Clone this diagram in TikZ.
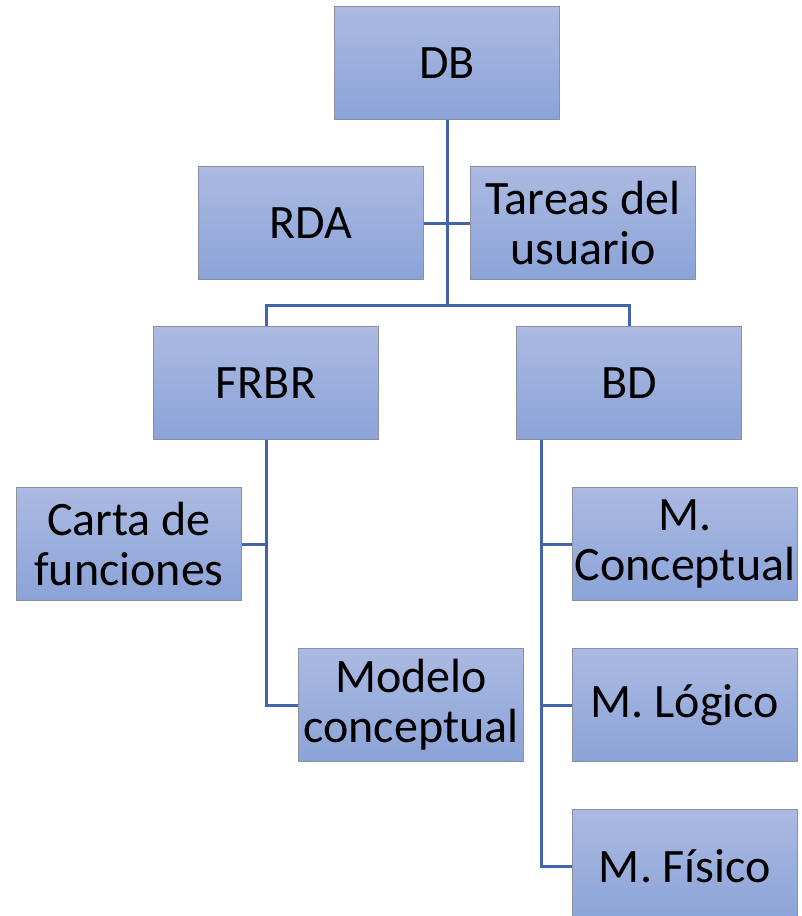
\documentclass[tikz,border=0pt]{standalone}
\usepackage{fontspec}
\setmainfont{Carlito}
\definecolor{boxtop}{RGB}{171,186,226}
\definecolor{boxbot}{RGB}{139,163,216}
\definecolor{boxline}{RGB}{140,145,155}
\definecolor{linkblue}{RGB}{66,100,172}
\tikzset{
  orgbox/.style={draw=boxline, line width=1.3pt, top color=boxtop, bottom color=boxbot,
    minimum width=225pt, minimum height=113pt, inner sep=0pt, align=center,
    font=\fontsize{48}{50}\selectfont},
  link/.style={draw=linkblue, line width=3pt}
}
\begin{document}
\begin{tikzpicture}[x=1pt,y=-1pt]
\useasboundingbox (0,0) rectangle (802,916);

\node[orgbox] (db) at (447,63) {DB};
\node[orgbox] (rda) at (311,223) {RDA};
\node[orgbox] (tareas) at (583,223) {Tareas del\\usuario};
\node[orgbox] (frbr) at (266,383) {FRBR};
\node[orgbox] (bd) at (629,383) {BD};
\node[orgbox] (carta) at (129,544) {Carta de\\funciones};
\node[orgbox] (modelo) at (411,705) {Modelo\\conceptual};
\node[orgbox] (mconc) at (685,544) {M.\\Conceptual};
\node[orgbox] (mlog) at (685,705) {M. Lógico};
\node[orgbox] (mfis) at (685,866) {M. Físico};

\coordinate (bus) at (447,305);
\coordinate (bdj) at (541,440);

% top level
\draw[link] (db.south) -- (bus);
\draw[link] (rda.east) -- (tareas.west);
\draw[link] (frbr.north) |- (bus) -| (bd.north);

% FRBR branch
\draw[link] (frbr.south) |- (modelo.west);
\draw[link] (carta.east) -| (frbr.south);

% BD branch
\draw[link] (bdj) |- (mfis.west);
\draw[link] (bdj |- mconc.west) -- (mconc.west);
\draw[link] (bdj |- mlog.west) -- (mlog.west);
\end{tikzpicture}
\end{document}
